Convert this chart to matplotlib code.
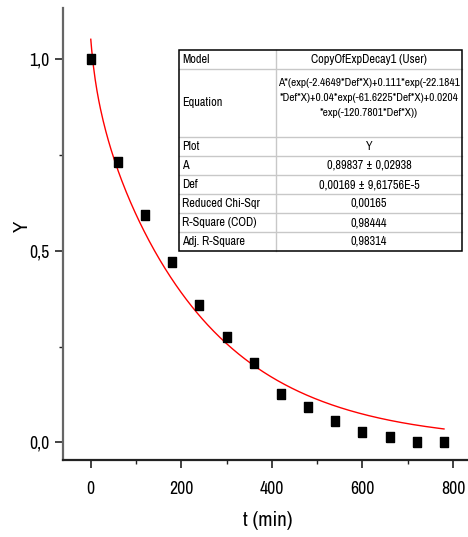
import numpy as np
import matplotlib
matplotlib.use("Agg")
import matplotlib.pyplot as plt
from matplotlib import font_manager
from matplotlib.ticker import FixedLocator, FuncFormatter, MultipleLocator
from matplotlib.patches import Rectangle

# Measured data
t_min = [0, 60, 120, 180, 240, 300, 360, 420, 480, 540, 600, 660, 720, 780]
y_obs = [1.0, 0.732, 0.593, 0.470, 0.358, 0.276, 0.208, 0.126, 0.091, 0.056,
         0.028, 0.013, 0.0, 0.0]

# Fitted model parameters
A = 0.89837
Def = 0.00169
rates = [2.4649, 22.1841, 61.6225, 120.7801]
weights = [1.0, 0.111, 0.04, 0.0204]

x_ticks = [0, 200, 400, 600, 800]
y_ticks = [0.0, 0.5, 1.0]

table_rows = [
    ("Model", "CopyOfExpDecay1 (User)"),
    ("Equation", "A*(exp(-2.4649*Def*X)+0.111*exp(-22.1841\n*Def*X)+0.04*exp(-61.6225*Def*X)+0.0204\n*exp(-120.7801*Def*X))"),
    ("Plot", "Y"),
    ("A", "0,89837 \u00b1 0,02938"),
    ("Def", "0,00169 \u00b1 9,61756E-5"),
    ("Reduced Chi-Sqr", "0,00165"),
    ("R-Square (COD)", "0,98444"),
    ("Adj. R-Square", "0,98314"),
]

available = {f.name for f in font_manager.fontManager.ttflist}
candidates = ["Liberation Sans Narrow", "Arial Narrow", "Archivo Narrow",
              "Roboto Condensed", "Liberation Sans"]
family = [f for f in candidates if f in available][:1] + ["DejaVu Sans"]
plt.rcParams["font.family"] = family

W, H = 468, 537
fig = plt.figure(figsize=(W / 100, H / 100), dpi=100)

# axes placement in pixels
ax_l, ax_r, ax_t, ax_b = 62.7, 468, 8, 460
ax = fig.add_axes([ax_l / W, 1 - ax_b / H, (ax_r - ax_l) / W, (ax_b - ax_t) / H])

xx = np.linspace(0, 780, 400)
model = A * sum(w * np.exp(-r * Def * xx) for w, r in zip(weights, rates))
ax.plot(xx, model, color="#ff0000", lw=1.0, zorder=2)

rect_marker = [(-0.4, -0.5), (0.4, -0.5), (0.4, 0.5), (-0.4, 0.5), (-0.4, -0.5)]
ax.plot(t_min, y_obs, linestyle="none", marker=rect_marker, markersize=7.4,
        color="black", zorder=3)

ax.set_xlim(-62, 833)
ax.set_ylim(-0.0462, 1.134)

for side in ["top", "right"]:
    ax.spines[side].set_visible(False)
ax.spines["left"].set_color("#666666")
ax.spines["bottom"].set_color("#222222")
ax.spines["left"].set_linewidth(1.6)
ax.spines["bottom"].set_linewidth(1.6)

ax.xaxis.set_major_locator(FixedLocator(x_ticks))
ax.xaxis.set_minor_locator(MultipleLocator(100))
ax.yaxis.set_major_locator(FixedLocator(y_ticks))
ax.yaxis.set_minor_locator(MultipleLocator(0.25))
ax.yaxis.set_major_formatter(FuncFormatter(lambda v, p: f"{v:.1f}".replace(".", ",")))
ax.xaxis.set_major_formatter(FuncFormatter(lambda v, p: f"{v:.0f}"))

ax.tick_params(axis="both", which="major", direction="out", length=5.5, width=1.2,
               labelsize=12.8, color="#222222", pad=4)
ax.tick_params(axis="both", which="minor", direction="out", length=3, width=1.0,
               color="#222222")
ax.tick_params(axis="x", which="major", length=6, pad=9)

fig.text(268 / W, 1 - 521 / H, "t (min)", fontsize=15, ha="center", va="center")
fig.text(22 / W, 1 - 226 / H, "Y", fontsize=15, ha="center", va="center", rotation=90)

# fit results table, drawn in pixel coordinates
tab = fig.add_axes([0, 0, 1, 1], zorder=5)
tab.set_xlim(0, W)
tab.set_ylim(H, 0)
tab.axis("off")

tx0, tx1, tdiv = 179.3, 462, 276
row_edges = [50, 69.3, 136.7, 156, 175, 194, 213, 232, 251]

tab.add_patch(Rectangle((tx0, row_edges[0]), tx1 - tx0, row_edges[-1] - row_edges[0],
                        facecolor="white", edgecolor="none", zorder=1))
for yline in row_edges[1:-1]:
    tab.plot([tx0, tx1], [yline, yline], color="#c8c8c8", lw=1.0, zorder=2)
tab.plot([tdiv, tdiv], [row_edges[0], row_edges[-1]], color="#c8c8c8", lw=1.0, zorder=2)
tab.add_patch(Rectangle((tx0, row_edges[0]), tx1 - tx0, row_edges[-1] - row_edges[0],
                        facecolor="none", edgecolor="black", lw=1.1, zorder=3))

cell_fs = 8.8
eq_texts = []
for i, (name, val) in enumerate(table_rows):
    y0, y1 = row_edges[i], row_edges[i + 1]
    yc = (y0 + y1) / 2
    tab.text(tx0 + 3, yc, name, fontsize=cell_fs, ha="left", va="center", zorder=4)
    if name == "Equation":
        for j, line in enumerate(val.split("\n")):
            eq_texts.append(tab.text((tdiv + tx1) / 2, 82.7 + j * 15.3, line,
                                     fontsize=cell_fs, ha="center", va="center", zorder=4))
    else:
        tab.text((tdiv + tx1) / 2, yc, val, fontsize=cell_fs, ha="center", va="center",
                 zorder=4)

# shrink the equation lines if the chosen font is too wide for the cell
renderer = fig.canvas.get_renderer()
widest = max(t.get_window_extent(renderer).width for t in eq_texts)
avail = (tx1 - tdiv) - 4
if widest > avail:
    for t in eq_texts:
        t.set_fontsize(cell_fs * avail / widest)

fig.savefig("out.png", dpi=100)
